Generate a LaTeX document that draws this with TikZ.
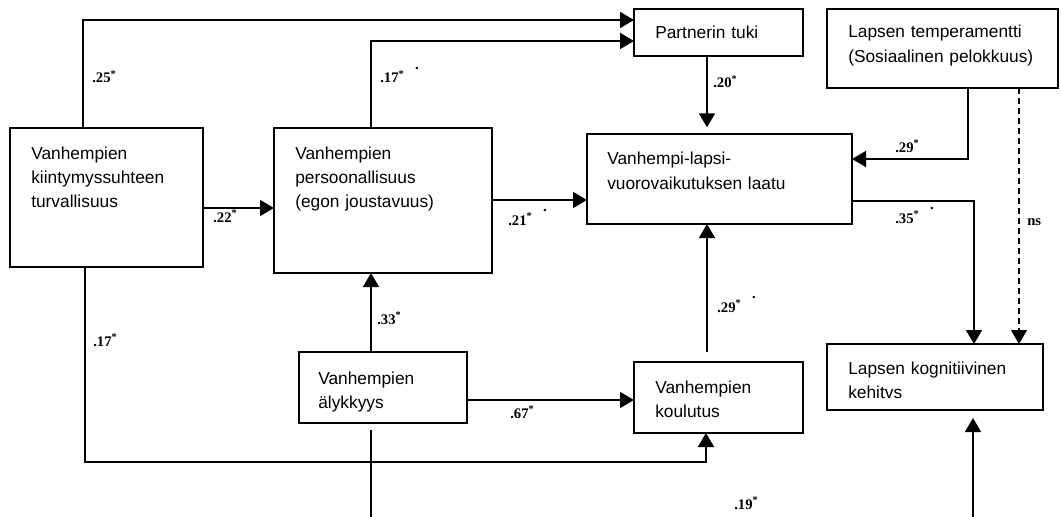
\documentclass[tikz,border=0pt]{standalone}
\usepackage{fontspec}
\setmainfont{Liberation Sans}
\newfontfamily\coeffont{Liberation Serif}
\usetikzlibrary{arrows.meta,calc}
% raised dot that follows some of the coefficients
\newcommand\hidot{\hspace{8pt}\raisebox{10pt}{.}}
\begin{document}
\begin{tikzpicture}[x=0.75pt,y=-0.75pt,
  box/.style 2 args={draw, line width=1.3pt, inner sep=0pt, outer sep=0pt,
    anchor=north west, minimum width=#1*0.75pt, minimum height=#2*0.75pt},
  txt/.style={inner sep=0pt, anchor=base west, align=left, text width=200pt,
    font=\fontsize{13pt}{18.2pt}\selectfont},
  lbl/.style={inner sep=0pt, anchor=base west,
    font=\coeffont\bfseries\fontsize{11pt}{13pt}\selectfont},
  tip/.style={-{Triangle[length=10.5pt,width=12pt]}},
  link/.style={line width=1.3pt, tip},
  plain/.style={line width=1.3pt},
  nslink/.style={line width=0.8pt, dash pattern=on 4.5pt off 3pt, tip}
]
\useasboundingbox (0,0) rectangle (1061,517);

% boxes
\node[box={193}{139}] (A)  at (10,128)  {};
\node[box={218}{145}] (B)  at (274,128) {};
\node[box={169}{47}]  (P)  at (634,9)   {};
\node[box={231}{79}]  (T)  at (827,9)   {};
\node[box={265}{90}]  (VL) at (587,134) {};
\node[box={168}{71}]  (AL) at (299,352) {};
\node[box={169}{71}]  (K)  at (634,362) {};
\node[box={216}{66}]  (C)  at (827,344) {};

% box texts
\node[txt] (At)  at ($(A.north west)+(21,31)$)  {Vanhempien\\kiintymyssuhteen\\turvallisuus};
\node[txt] (Bt)  at ($(B.north west)+(21,31)$)  {Vanhempien\\persoonallisuus\\(egon joustavuus)};
\node[txt] (Pt)  at ($(P.north west)+(21,30)$)  {Partnerin tuki};
\node[txt] (Tt)  at ($(T.north west)+(21,29)$)  {Lapsen temperamentti\\(Sosiaalinen pelokkuus)};
\node[txt] (VLt) at ($(VL.north west)+(20,31)$) {Vanhempi-lapsi-\\vuorovaikutuksen laatu};
\node[txt] (ALt) at ($(AL.north west)+(19,32)$) {Vanhempien\\älykkyys};
\node[txt] (Kt)  at ($(K.north west)+(21,31)$)  {Vanhempien\\koulutus};
\node[txt] (Ct)  at ($(C.north west)+(21,30)$)  {Lapsen kognitiivinen\\kehitvs};

% paths
\draw[link] ($(A.north west)+(73,0)$) |- ($(P.north west)+(0,11)$);
\draw[link] ($(B.north west)+(97,0)$) |- ($(P.north west)+(0,32)$);
\path ($(A.north east)+(0,80)$) coordinate (s22);
\draw[link] (s22) -- (s22 -| B.west);
\path ($(B.north east)+(0,72)$) coordinate (s21);
\draw[link] (s21) -- (s21 -| VL.west);
\path ($(P.south west)+(73,0)$) coordinate (s20);
\draw[link, shorten >=5pt] (s20) -- (s20 |- VL.north);
\draw[link] ($(T.south west)+(141,0)$) |- ($(VL.north east)+(0,25)$);
\path ($(T.south west)+(192,0)$) coordinate (sns);
\draw[nslink] (sns) -- (sns |- C.north);
\draw[link] ($(VL.north east)+(0,67)$) -| ($(C.north west)+(147,0)$);
\path ($(AL.north west)+(72,0)$) coordinate (s33);
\draw[link] (s33) -- (s33 |- B.south);
\path ($(AL.north east)+(0,48)$) coordinate (s67);
\draw[link] (s67) -- (s67 -| K.west);
\path ($(K.north west)+(73,-10)$) coordinate (s29);
\draw[link] (s29) -- (s29 |- VL.south);
\draw[link] ($(A.south west)+(75,0)$) -- ++(0,195) -| ($(K.south west)+(72,0)$);
\coordinate (endL) at (371,517);
\draw[plain] ($(AL.south west)+(72,7)$) -- (endL);
\coordinate (endR) at (973,517);
\draw[link] (endR) -- ($(C.south west)+(146,8)$);

% coefficients
\node[lbl] (l25)  at (92,83)   {.25\textsuperscript{*}};
\node[lbl] (l22)  at (213,222) {.22\textsuperscript{*}};
\node[lbl] (l17a) at (380,83)  {.17\textsuperscript{*}\hidot};
\node[lbl] (l21)  at (508,225) {.21\textsuperscript{*}\hidot};
\node[lbl] (l20)  at (713,88)  {.20\textsuperscript{*}};
\node[lbl] (l29a) at (895,152) {.29\textsuperscript{*}};
\node[lbl] (l35)  at (895,223) {.35\textsuperscript{*}\hidot};
\node[lbl] (lns)  at (1027,225) {ns};
\node[lbl] (l33)  at (377,324) {.33\textsuperscript{*}};
\node[lbl] (l17b) at (93,346)  {.17\textsuperscript{*}};
\node[lbl] (l67)  at (510,418) {.67\textsuperscript{*}};
\node[lbl] (l29b) at (717,312) {.29\textsuperscript{*}\hidot};
\node[lbl] (l19)  at (734,509) {.19\textsuperscript{*}};
\end{tikzpicture}
\end{document}
